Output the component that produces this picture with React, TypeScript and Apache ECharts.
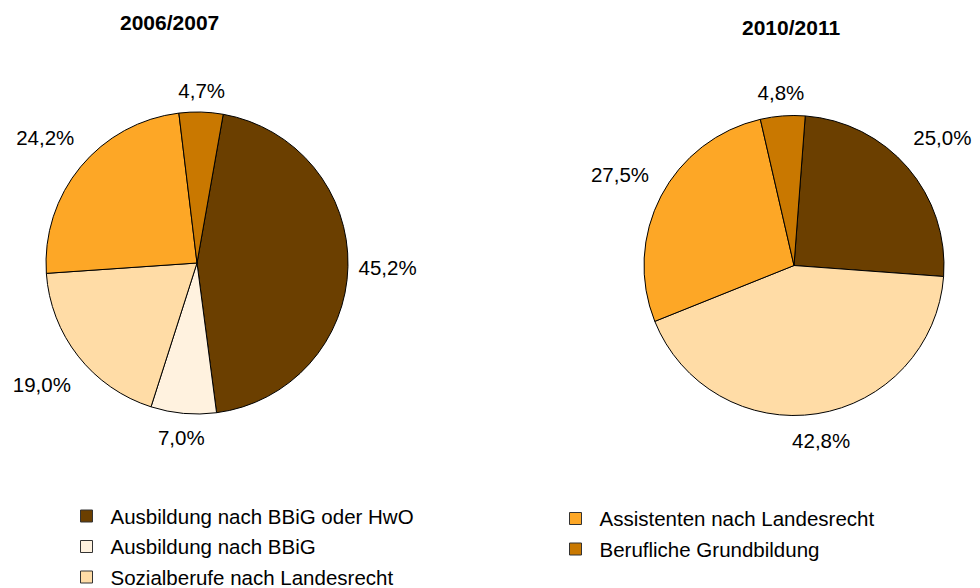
import React, { useEffect, useRef } from 'react';
import * as echarts from 'echarts';

const categories = [
  'Ausbildung nach BBiG oder HwO',
  'Ausbildung nach BBiG',
  'Sozialberufe nach Landesrecht',
  'Assistenten nach Landesrecht',
  'Berufliche Grundbildung',
];
const colors = ['#6B3F00', '#FFF2DF', '#FFDCA6', '#FDA726', '#C97800'];
const titles = ['2006/2007', '2010/2011'];
const categories2006 = [categories[0], categories[1], categories[2], categories[3], categories[4]];
const values2006 = [45.2, 7.0, 19.0, 24.2, 4.7];
const categories2010 = [categories[0], categories[2], categories[3], categories[4]];
const values2010 = [25.0, 42.8, 27.5, 4.8];

const FONT = '"Liberation Sans", Arial, sans-serif';
const GAP = 10;

function placeLabel(params: any) {
  const pts = params.labelLinePoints;
  if (!pts || pts.length < 2) return {};
  const [x0, y0] = pts[0];
  const [x1, y1] = pts[1];
  let dx = x1 - x0;
  let dy = y1 - y0;
  const len = Math.hypot(dx, dy) || 1;
  dx /= len;
  dy /= len;
  const w = params.labelRect.width;
  const h = params.labelRect.height;
  const ext = (Math.abs(dx) * w) / 2 + (Math.abs(dy) * h) / 2 + 14 * Math.abs(dx * dy);
  return {
    x: x0 + dx * (GAP + ext),
    y: y0 + dy * (GAP + ext),
    align: 'center',
    verticalAlign: 'middle',
  };
}

function makeData(names: string[], values: number[]) {
  return names.map((n, i) => ({
    name: n,
    value: values[i],
    itemStyle: { color: colors[categories.indexOf(n)] },
  }));
}

function pieSeries(names: string[], values: number[], center: number[], radius: number, startAngle: number) {
  return {
    type: 'pie',
    center,
    radius,
    startAngle,
    clockwise: true,
    avoidLabelOverlap: false,
    data: makeData(names, values),
    itemStyle: { borderColor: '#000', borderWidth: 1 },
    label: {
      show: true,
      position: 'outside',
      formatter: (p: any) => p.value.toFixed(1).replace('.', ',') + '%',
      fontSize: 20.5,
      fontFamily: FONT,
      color: '#000',
    },
    labelLine: { show: true, length: 10, length2: 0, lineStyle: { opacity: 0 } },
    labelLayout: placeLabel,
    emphasis: { disabled: true },
  };
}

export default function App() {
  const ref = useRef<HTMLDivElement>(null);
  useEffect(() => {
    document.body.style.margin = '0';
    const chart = echarts.init(ref.current!, null, { renderer: 'svg' });
    const legendCommon = {
      orient: 'vertical',
      itemWidth: 12,
      itemHeight: 12,
      itemGap: 9.5,
      padding: 0,
      height: 120,
      icon: 'rect',
      itemStyle: { borderColor: '#333', borderWidth: 1 },
      textStyle: { fontSize: 20.5, color: '#000', fontFamily: FONT, lineHeight: 21, padding: [0, 0, 0, 13] },
    };
    chart.setOption({
      animation: false,
      backgroundColor: '#fff',
      title: [
        { text: titles[0], left: 120, top: 12, padding: 0, textStyle: { fontSize: 21, fontWeight: 'bold', color: '#000', fontFamily: FONT } },
        { text: titles[1], left: 742, top: 17, padding: 0, textStyle: { fontSize: 21, fontWeight: 'bold', color: '#000', fontFamily: FONT } },
      ],
      legend: [
        { ...legendCommon, data: categories.slice(0, 3), left: 80, top: 505.5 },
        { ...legendCommon, data: categories.slice(3), left: 569, top: 508 },
      ],
      series: [
        pieSeries(categories2006, values2006, [197, 263], 151, 80),
        pieSeries(categories2010, values2010, [794, 265.5], 150, 85.7),
      ],
    });
    return () => chart.dispose();
  }, []);
  return <div ref={ref} style={{ position: 'fixed', left: 0, top: 0, width: 980, height: 588 }} />;
}
